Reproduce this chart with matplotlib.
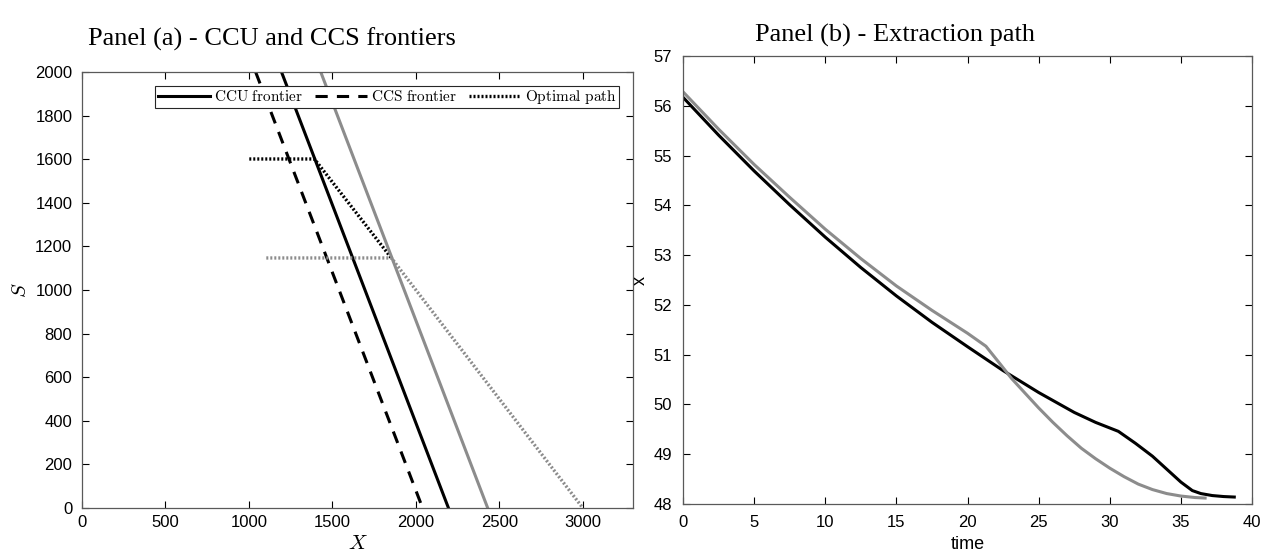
import numpy as np
import matplotlib
matplotlib.use("Agg")
from matplotlib import pyplot as plt

# panel (a): frontiers drawn as straight lines between S=2000 and S=0
S_ends = [2000, 0]
ccu_X = [1195, 2195]
ccs_X = [1040, 2040]
ccu2_X = [1430, 2430]

# optimal paths (black and grey)
path1_X = [1002, 1392, 1853]
path1_S = [1601, 1601, 1147]
path2_X = [1104, 1853, 3000]
path2_S = [1147, 1147, 0]

# panel (b): extraction paths
t_black = [0, 2.5, 5, 7.5, 10, 12.5, 15, 17.5, 20, 22.5, 25, 27.5, 29, 30.6,
           31.8, 33, 34, 35, 35.8, 36.4, 37.2, 38, 38.75]
x_black = [56.17, 55.41, 54.69, 54.01, 53.36, 52.75, 52.18, 51.65, 51.16, 50.68, 50.24, 49.84, 49.64, 49.46,
           49.22, 48.96, 48.70, 48.44, 48.27, 48.21, 48.17, 48.15, 48.14]
t_grey = [0, 2.5, 5, 7.5, 10, 12.5, 15, 17.5, 20, 21.29,
          22.3, 23.1, 24, 25, 26, 27, 28, 29, 30, 31, 32, 33, 34, 35, 36, 36.7]
x_grey = [56.28, 55.53, 54.82, 54.16, 53.52, 52.93, 52.38, 51.89, 51.43, 51.17,
          50.81, 50.52, 50.24, 49.93, 49.64, 49.37, 49.12, 48.91, 48.72, 48.55, 48.40, 48.29,
          48.21, 48.16, 48.13, 48.12]

grey = "0.55"
axcol = "0.35"
plt.rcParams["mathtext.fontset"] = "cm"
plt.rcParams["font.family"] = ["Liberation Sans", "DejaVu Sans"]

fig = plt.figure(figsize=(12.71, 5.56), dpi=100)
ax1 = fig.add_axes([0.0645, 0.0863, 0.4335, 0.7842])
ax2 = fig.add_axes([0.5374, 0.0935, 0.4477, 0.8058])

ax1.plot(ccu_X, S_ends, color="k", lw=2.2, label=r"$\mathrm{CCU\ frontier}$")
ax1.plot(ccs_X, S_ends, color="k", lw=2.2, ls=(0, (4, 3)), label=r"$\mathrm{CCS\ frontier}$")
ax1.plot(path1_X, path1_S, color="k", lw=2.4, ls=(0, (0.6, 0.6)), label=r"$\mathrm{Optimal\ path}$")
ax1.plot(ccu2_X, S_ends, color=grey, lw=2.2)
ax1.plot(path2_X, path2_S, color=grey, lw=2.4, ls=(0, (0.6, 0.6)))

ax1.set_xlim(0, 3300)
ax1.set_ylim(0, 2000)
ax1.set_xticks(np.arange(0, 3001, 500))
ax1.set_yticks(np.arange(0, 2001, 200))
ax1.set_xlabel(r"$X$", fontsize=15, labelpad=3)
ax1.set_ylabel(r"$S$", fontsize=15, labelpad=4)
leg = ax1.legend(loc="upper right", ncol=3, fontsize=11, frameon=True, fancybox=False,
                 edgecolor="0.15", framealpha=1, handlelength=3.4, handletextpad=0.25,
                 columnspacing=0.8, borderpad=0.15, borderaxespad=0.9)
leg.get_frame().set_linewidth(0.8)

ax2.plot(t_black, x_black, color="k", lw=2.2)
ax2.plot(t_grey, x_grey, color=grey, lw=2.2)
ax2.set_xlim(0, 40)
ax2.set_ylim(48, 57)
ax2.set_xticks(np.arange(0, 41, 5))
ax2.set_yticks(np.arange(48, 58, 1))
ax2.set_xlabel("time", fontsize=13, labelpad=4)
ax2.set_ylabel("x", fontsize=13, labelpad=3)

for ax in (ax1, ax2):
    ax.tick_params(direction="in", top=True, right=True, length=5, width=0.8,
                   labelsize=12, colors="k")
    for sp in ax.spines.values():
        sp.set_color(axcol)
        sp.set_linewidth(0.9)
ax1.tick_params(axis="x", pad=5)
ax1.tick_params(axis="y", pad=7)
ax2.tick_params(axis="x", pad=8)
ax2.tick_params(axis="y", pad=8)

fig.text(0.214, 0.93, "Panel (a) - CCU and CCS frontiers", ha="center", va="center",
         fontsize=19, family="Liberation Serif")
fig.text(0.704, 0.937, "Panel (b) - Extraction path", ha="center", va="center",
         fontsize=19, family="Liberation Serif")

fig.savefig("out.png", dpi=100)
